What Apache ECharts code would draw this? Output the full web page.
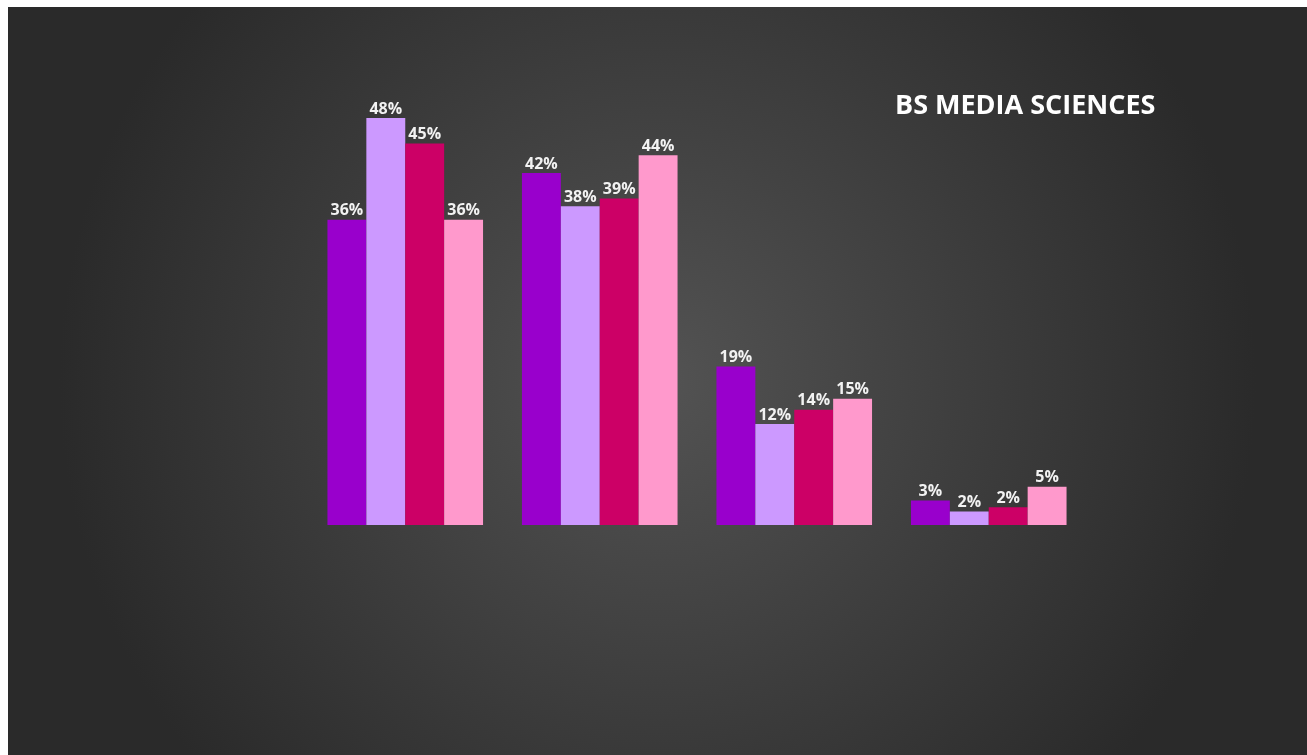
<!DOCTYPE html>
<html>
<head>
<meta charset="utf-8">
<script src="https://cdn.jsdelivr.net/npm/echarts@6/dist/echarts.min.js"></script>
<style>
html,body{margin:0;padding:0;background:#ffffff;}
#chart{position:absolute;left:8px;top:7px;width:1299px;height:748px;}
</style>
</head>
<body>
<div id="chart"></div>
<script>
const categories = ["Group 1", "Group 2", "Group 3", "Group 4"];
const seriesNames = ["Series 1", "Series 2", "Series 3", "Series 4"];
const series1 = [36, 41.5, 18.7, 2.9];
const series2 = [48, 37.6, 11.9, 1.6];
const series3 = [45, 38.5, 13.6, 2.1];
const series4 = [36, 43.6, 14.9, 4.5];
const colors = ["#9900CC", "#CC99FF", "#CC0066", "#FF99CC"];
const titleText = "BS MEDIA SCIENCES";

const allData = [series1, series2, series3, series4];
const chart = echarts.init(document.getElementById('chart'));
chart.setOption({
  backgroundColor: {
    type: 'radial', x: 0.5, y: 0.5, r: 0.8,
    colorStops: [{offset: 0, color: '#535353'}, {offset: 1, color: '#2a2a2a'}]
  },
  title: {
    text: titleText, left: 882, top: 81,
    textStyle: {color: '#ffffff', fontFamily: 'Open Sans', fontWeight: 'bold', fontSize: 27}
  },
  grid: {left: 300, right: 1299 - 1078, top: 94, bottom: 748 - 518},
  xAxis: {
    type: 'category', data: categories,
    axisLine: {show: false}, axisTick: {show: false}, axisLabel: {show: false}, splitLine: {show: false}
  },
  yAxis: {
    type: 'value', min: 0, max: 50,
    axisLine: {show: false}, axisTick: {show: false}, axisLabel: {show: false}, splitLine: {show: false}
  },
  series: allData.map((d, i) => ({
    name: seriesNames[i], type: 'bar', data: d,
    barGap: '0%', barCategoryGap: '20%',
    itemStyle: {color: colors[i]},
    label: {
      show: true, position: 'top', distance: 1,
      color: '#f2f2f2', fontFamily: 'Open Sans', fontWeight: 'bold', fontSize: 16,
      formatter: p => Math.round(p.value) + '%'
    }
  })),
  animation: false
});
</script>
</body>
</html>
